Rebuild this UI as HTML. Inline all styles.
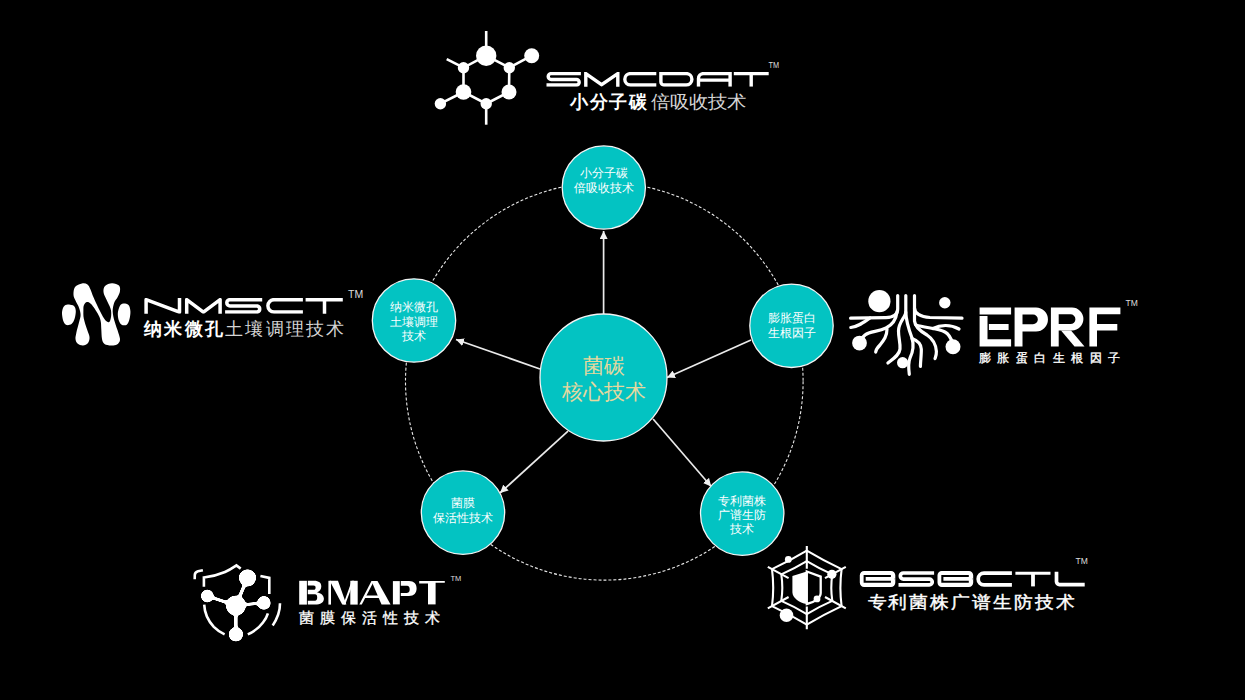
<!DOCTYPE html>
<html><head><meta charset="utf-8">
<style>
html,body{margin:0;padding:0;background:#000;width:1245px;height:700px;overflow:hidden}
svg{display:block}
text{font-family:"Liberation Sans",sans-serif}
.ct{fill:#fff;font-size:12px;text-anchor:middle}
</style></head><body>
<svg width="1245" height="700" viewBox="0 0 1245 700">
<defs>
<marker id="ah" viewBox="0 0 10 10" refX="10" refY="5" markerWidth="8" markerHeight="8" markerUnits="userSpaceOnUse" orient="auto">
<path d="M0,0 L10,5 L0,10 z" fill="#f0f0f0"/>
</marker>
</defs>
<rect width="1245" height="700" fill="#000"/>
<!-- dashed ring -->
<ellipse cx="604.3" cy="381.3" rx="198.8" ry="198.8" fill="none" stroke="#e8e8e8" stroke-width="1.1" stroke-dasharray="3 2"/>
<!-- connectors -->
<g stroke="#eaeaea" stroke-width="1.7" fill="none">
<line x1="603.6" y1="314" x2="603.6" y2="231" marker-end="url(#ah)"/>
<line x1="540" y1="369" x2="456" y2="339.5" marker-end="url(#ah)"/>
<line x1="751" y1="340" x2="667" y2="377.5" marker-end="url(#ah)"/>
<line x1="568" y1="431.2" x2="500" y2="493" marker-end="url(#ah)"/>
<line x1="653.1" y1="419" x2="711.2" y2="486.5" marker-end="url(#ah)"/>
</g>
<!-- circles -->
<g fill="#03c3c2" stroke="#f4f4f4" stroke-width="1.3">
<circle cx="603.5" cy="377.5" r="63.5"/>
<circle cx="603.8" cy="187.5" r="41.6"/>
<circle cx="414" cy="320.5" r="41.7"/>
<circle cx="791.5" cy="325.8" r="41.7"/>
<circle cx="463" cy="512.6" r="41.7"/>
<circle cx="742.2" cy="513.6" r="41.7"/>
</g>
<g class="ct">
<text x="603.8" y="177">小分子碳</text>
<text x="603.8" y="192">倍吸收技术</text>
<text x="414" y="311">纳米微孔</text>
<text x="414" y="326">土壤调理</text>
<text x="414" y="340">技术</text>
<text x="791.5" y="322">膨胀蛋白</text>
<text x="791.5" y="337">生根因子</text>
<text x="463" y="507">菌膜</text>
<text x="463" y="522">保活性技术</text>
<text x="742.2" y="505">专利菌株</text>
<text x="742.2" y="519">广谱生防</text>
<text x="742.2" y="533">技术</text>
</g>
<g fill="#e6d89e" font-size="21" text-anchor="middle">
<text x="603.5" y="373">菌碳</text>
<text x="603.5" y="399">核心技术</text>
</g>

<!-- ===== SMCDAT logo ===== -->
<g id="smcdat">
<g stroke="#fff" stroke-width="2.6" fill="none">
<line x1="486.2" y1="31" x2="486.2" y2="56"/>
<line x1="486.2" y1="104" x2="486.2" y2="124.7"/>
<line x1="446.7" y1="59.2" x2="463.5" y2="67.7"/>
<line x1="509.3" y1="67.7" x2="531.7" y2="55.7"/>
<line x1="440.4" y1="103.7" x2="463.5" y2="92"/>
<path d="M486.2,55.7 L463.5,67.7 L463.5,92 L486.2,103.7 L509,92 L509.3,67.7 Z"/>
</g>
<g fill="#fff">
<circle cx="486.2" cy="55.7" r="10.2"/>
<circle cx="463.5" cy="67.7" r="5.7"/>
<circle cx="509.3" cy="67.7" r="5.7"/>
<circle cx="531.7" cy="55.7" r="7.5"/>
<circle cx="463.5" cy="92" r="7.8"/>
<circle cx="509" cy="92" r="7.5"/>
<circle cx="486.2" cy="103.7" r="5.7"/>
<circle cx="440.4" cy="103.7" r="5.7"/>
</g>
<clipPath id="clipSM"><rect x="540" y="71.9" width="235" height="14.9"/></clipPath>
<g stroke="#fff" stroke-width="3.4" fill="none" stroke-linejoin="miter" stroke-miterlimit="6" clip-path="url(#clipSM)">
<path d="M580.9,73.6 H551.15 A2.95,2.95 0 0 0 551.15,79.5 H576.45 A2.75,2.75 0 0 1 576.45,85 H546.5"/>
<path d="M585.8,88 V73.6 L601.6,84.7 L617.8,73.6 V88"/>
<path d="M656.3,73.6 H630.5 A5.7,5.7 0 0 0 630.5,85 H656.3"/>
<path d="M659.2,73.6 H686.2 A5.7,5.7 0 0 1 686.2,85 H663.9 A3,3 0 0 1 660.9,82 V73.6"/>
<path d="M698.5,86.8 V78.6 A5,5 0 0 1 703.5,73.6 H731.8 M730.1,73.6 V86.8 M698.5,80.1 H730.1"/>
<path d="M733.8,73.6 H768.7 M751.2,73.6 V86.8"/>
</g>
<text x="768.6" y="67.6" font-size="8.7" textLength="10.6" lengthAdjust="spacingAndGlyphs" fill="#ddd">TM</text>
<text x="570" y="108" font-size="17.5" font-weight="bold" letter-spacing="1.5" fill="#fff">小分子碳</text>
<text transform="translate(650.5,108) scale(1.08,1)" font-size="17.5" letter-spacing="0.45" fill="#d4d4d4">倍吸收技术</text>
</g>

<!-- ===== NMSCT logo ===== -->
<g id="nmsct">
<g transform="translate(70,280) scale(0.1)" fill="#fff">
<path d="M120,35 C141,31 161,35 175,45 C189,55 195,74 205,95 C215,116 221,140 234,171 C247,202 266,243 284,279 C302,315 326,362 341,386 C356,410 367,416 377,420 C387,424 394,422 400,410 C406,398 411,371 412,350 C413,329 413,311 405,285 C397,259 375,220 363,193 C351,166 337,142 335,120 C333,98 336,75 350,60 C364,45 397,33 420,32 C443,31 477,42 490,55 C503,68 502,91 500,110 C498,129 487,151 477,171 C467,191 449,205 441,229 C433,253 426,282 427,314 C428,346 438,385 448,421 C458,457 475,499 484,529 C493,559 502,581 500,600 C498,619 485,636 470,645 C455,654 431,656 410,655 C389,654 360,651 345,640 C330,629 325,614 320,590 C315,566 315,524 313,493 C311,462 312,433 306,407 C300,381 292,363 277,336 C262,309 231,262 213,243 C195,224 182,220 170,221 C158,222 146,237 140,250 C134,263 134,277 134,300 C134,323 132,354 138,386 C144,418 160,462 170,493 C180,524 193,547 195,570 C197,593 191,616 180,630 C169,644 148,654 130,655 C112,656 88,646 75,635 C62,624 57,608 55,590 C53,572 57,557 63,529 C69,501 84,451 91,421 C98,391 106,374 106,350 C106,326 99,303 91,279 C83,255 65,228 56,207 C47,186 36,173 35,150 C34,127 36,89 50,70 C64,51 99,39 120,35 Z"/>
<path d="M-10,245 C4,247 29,249 40,260 C51,271 57,288 58,310 C59,332 52,368 45,390 C38,412 28,430 15,440 C2,450 -22,454 -35,450 C-48,446 -58,433 -65,415 C-72,397 -79,362 -80,340 C-81,318 -76,295 -70,280 C-64,265 -55,256 -45,250 C-35,244 -24,243 -10,245 Z"/>
<path d="M540,236 C552,237 574,238 585,250 C596,262 602,287 604,310 C606,333 601,368 595,390 C589,412 582,435 570,445 C558,455 533,456 520,450 C507,444 497,428 490,410 C483,392 478,362 478,340 C478,318 485,296 490,280 C495,264 502,252 510,245 C518,238 528,235 540,236 Z"/>
</g>
<clipPath id="clipNM"><rect x="140" y="297.9" width="210" height="15.9"/></clipPath>
<g stroke="#fff" stroke-width="3.5" fill="none" stroke-linejoin="round" clip-path="url(#clipNM)">
<path d="M146.1,316 V299.65 L179.5,312.05 V295"/>
<path d="M186.7,316 V299.65 L203.4,312.05 L220.1,299.65 V316"/>
<path d="M262.2,299.65 H230 A3.2,3.2 0 0 0 230,306.05 H257.4 A3.1,3.1 0 0 1 257.4,312.05 H225.1"/>
<path d="M302.9,299.65 H274.1 A6.2,6.2 0 0 0 274.1,312.05 H302.9"/>
<path d="M305.6,299.65 H342.8 M324.5,299.65 V316"/>
</g>
<text x="348" y="297.6" font-size="10.5" fill="#ddd">TM</text>
<text x="144" y="335" font-size="17.5" font-weight="bold" letter-spacing="2.3" fill="#fff">纳米微孔</text>
<text x="225" y="335" font-size="17.5" letter-spacing="2.3" fill="#d4d4d4">土壤调理技术</text>
</g>

<!-- ===== EPRF logo ===== -->
<g id="eprf">
<g stroke="#fff" stroke-width="3.2" fill="none" stroke-linecap="round">
<path d="M897.7,295.5 V309 C897.7,314 894,317.3 886,317.6 L850.6,318.2"/>
<path d="M850.8,327.5 C858,326.5 863,323 870,318"/>
<path d="M905.8,295.5 V312 C905.8,317 898.5,322 898.5,331 C898.5,338 900.5,343 900,349 C899.5,355 893,359 887.9,363"/>
<path d="M905.8,312 C906,320 909,330 912,338 C914,345 912.5,353 910,358 C908,363 908.6,369 909.3,374.3"/>
<path d="M912,338.5 C916,340 921,343 921.3,349 C921.5,354 920.5,361 920.4,366.4"/>
<path d="M914.5,295.5 V308 C914.5,313 920,317 930,317.5 L962,318.2"/>
<path d="M914.5,308 V321 C915,327 920,331 927,335 C933,339 936,345 936.4,351.4 C936.5,355 935.5,357 935,358.6"/>
<path d="M916,325 C925,328 938,328 945,332 C949,334 951,338 953,344"/>
<path d="M933,328.5 C940,325 950,324 959,329"/>
<path d="M897,312 C896,320 892,325 886,328 C878,332 870,331 865,335 L860,340"/>
<path d="M887,329 C887,336 884,340 880,345 C877,348 876,350 875.7,352.1"/>
</g>
<g fill="#fff">
<circle cx="879.4" cy="301.2" r="11.1"/>
<circle cx="944.8" cy="302.7" r="5.7"/>
<circle cx="859.5" cy="343.1" r="7.4"/>
<circle cx="953" cy="346.8" r="7.5"/>
<circle cx="902.6" cy="362.7" r="5.6"/>
<path d="M979.6,307.5 H1011.1 V314.6 H979.6 Z M979.6,316.1 H987.5 V339.3 H1011.1 V346.4 H979.6 Z M988.9,323.9 H1008.6 V330 H988.9 Z"/>
<path fill-rule="evenodd" d="M1014.6,346.4 V307.5 H1036 A11.95,11.95 0 0 1 1036,331.4 H1022.5 V346.4 Z M1022.5,314.6 H1033 A4.85,4.85 0 0 1 1033,324.3 H1022.5 Z"/>
<path fill-rule="evenodd" d="M1050.9,346.5 V307.6 H1072 A11.4,11.4 0 0 1 1072,330.4 H1058.7 V346.5 Z M1058.7,314.2 H1070.45 A4.95,4.95 0 0 1 1070.45,324.1 H1058.7 Z"/>
<path d="M1061,330.4 H1071 L1084.5,346.5 H1074.5 Z"/>
<path d="M1089.4,346.5 V307.6 H1120.4 V314.2 H1097 V324.1 H1117.3 V330.4 H1097 V346.5 Z"/>
</g>
<text x="1125.5" y="305.8" font-size="8.5" fill="#ddd">TM</text>
<text x="978.5" y="361.5" font-size="12.3" letter-spacing="6.55" fill="#fff" stroke="#fff" stroke-width="0.35">膨胀蛋白生根因子</text>
</g>

<!-- ===== BMAPT logo ===== -->
<g id="bmapt">
<g stroke="#fff" stroke-width="2.6" fill="none" stroke-linecap="butt">
<path d="M202.9,570.2 L198,571.2 Q195,572 194.8,574.8 L194.7,579.3"/>
<path d="M203.9,586.8 V577.5 C210,576.8 218,575 225,572 C230,569.8 234,567 236.4,565.4 L240.7,568.6"/>
<path d="M260.4,576.1 L269.3,577.9 V593.9"/>
<path d="M204.2,604.6 C204.5,612 207.5,620 213.8,626.8 C217,630 220.5,632.5 224.6,634.4"/>
<path d="M247.8,634.4 C253,632 259,628 263,622.5 C265.5,619.5 267,616.5 267.9,613.4"/>
<path d="M280,603.3 C280,607.5 279.3,611.5 278.2,614.5 C276.8,618.5 274.8,622.5 272.7,625.4"/>
</g>
<filter id="goo" x="-20%" y="-20%" width="140%" height="140%">
<feGaussianBlur in="SourceGraphic" stdDeviation="1.0" result="b"/>
<feColorMatrix in="b" type="matrix" values="0 0 0 0 1  0 0 0 0 1  0 0 0 0 1  0 0 0 6 -2.4"/>
</filter>
<g filter="url(#goo)">
<g stroke="#fff" fill="none">
<line x1="235.9" y1="605.5" x2="247.5" y2="577.9" stroke-width="3.4"/>
<line x1="235.9" y1="605.5" x2="207.3" y2="596" stroke-width="3"/>
<line x1="235.9" y1="605.5" x2="263.9" y2="602.9" stroke-width="3"/>
<line x1="235.9" y1="605.5" x2="235.9" y2="634.4" stroke-width="3.3"/>
</g>
<g fill="#fff">
<circle cx="235.9" cy="605.5" r="10.1"/>
<circle cx="247.5" cy="577.9" r="8.6"/>
<circle cx="207.3" cy="596" r="6.4"/>
<circle cx="263.9" cy="602.9" r="6.8"/>
<circle cx="235.9" cy="634.4" r="7.2"/>
</g>
</g>
<g fill="#fff">
<path d="M299.2,580.8 H306.9 V604.6 H299.2 Z"/>
<path d="M307.8,580.8 H314 C319,580.8 321.3,583 321.3,586.5 C321.3,589.5 319.5,591.5 317,592.2 C321,593 323.9,595.5 323.9,598.8 C323.9,602.5 320.5,604.6 315,604.6 H307.8 V600.7 H315 C316.5,600.7 317.2,599.5 317.2,597.5 C317.2,595.5 316.5,594.3 315,594.3 H307.8 V589.8 H313.5 C315,589.8 315.6,588.8 315.6,587.7 C315.6,586.5 315,585.6 313.5,585.6 H307.8 Z"/>
<path d="M328.4,580.8 H331 V604.6 H328.4 Z"/>
<path d="M329.7,580.8 H338 L346.4,604.6 H342.2 Z"/>
<path d="M343.3,604.6 H345.2 L354.1,580.8 H351.8 Z"/>
<path d="M350.3,580.8 H357.7 V604.6 H350.3 Z"/>
<path d="M359.3,604.6 H361.8 L374,581.1 H371.5 Z"/>
<path d="M371.5,581.1 H377.5 L390.6,604.4 H381.5 Z"/>
<path d="M364.6,595.6 H384.5 L385.7,597.9 H363.4 Z"/>
<path d="M392.9,581.1 H399.8 V604.4 H392.9 Z"/>
<path d="M400.8,581.1 H409 C414,581.1 416.6,584 416.6,588.5 C416.6,593 414,596 409,596 H400.8 V592.9 H407 C408.8,592.9 409.7,591.5 409.7,589.3 C409.7,587 408.8,585.7 407,585.7 H400.8 Z"/>
<path d="M419.2,581.1 H444.8 V582.8 H428 V583.5 H419.2 Z"/>
<path d="M428,581.1 H435.6 V604.4 H428 Z"/>
</g>
<text x="450.5" y="580.5" font-size="7.5" fill="#ddd">TM</text>
<text x="299" y="622.5" font-size="15" letter-spacing="6" fill="#fff" stroke="#fff" stroke-width="0.3">菌膜保活性技术</text>
</g>

<!-- ===== BSBCTL logo ===== -->
<g id="bsbctl">
<g stroke="#fff" stroke-width="2.1" fill="none">
<path d="M806.8,550.6 Q823.7,560.7 841.6,569.1 Q839.2,587.6 841.6,606.1 Q823.7,614.5 806.8,624.6 Q789.9,614.5 772.0,606.1 Q774.4,587.6 772.0,569.1 Q789.9,560.7 806.8,550.6 Z"/>
<path d="M806.8,561.1 Q819.1,568.5 832.3,574.4 Q830.3,587.6 832.3,600.9 Q819.1,606.7 806.8,614.1 Q794.5,606.7 781.3,600.9 Q783.3,587.6 781.3,574.4 Q794.5,568.5 806.8,561.1 Z"/>
<path d="M806.8,546.0 L806.8,568.8 M845.8,566.8 L825.0,578.2 M845.8,608.4 L825.0,597.0 M806.8,629.2 L806.8,606.4 M767.8,608.4 L788.6,597.0 M767.8,566.8 L788.6,578.2 "/>
</g>
<path d="M806.8,571.5 L792.4,576.1 V591.9 C792.4,598 799,602.5 806.8,604 Z" fill="#fff"/>
<path d="M806.8,571.5 L820.7,576.6 V592.9 C820.7,598 814,602.5 806.8,604 Z" fill="none" stroke="#fff" stroke-width="2.3"/>
<g fill="#fff">
<circle cx="788.3" cy="559.4" r="3.4"/>
<circle cx="831.9" cy="574.3" r="4.6"/>
<circle cx="817" cy="598.9" r="3.4"/>
<circle cx="786.5" cy="615.3" r="6.8"/>
</g>
<path fill="#fff" fill-rule="evenodd" d="M864.1,571.0 H891.0 A4.3,4.3 0 0 1 895.3,575.3 V582.6 A4.3,4.3 0 0 1 891.0,586.9 H864.1 A4.3,4.3 0 0 1 859.8,582.6 V575.3 A4.3,4.3 0 0 1 864.1,571.0 Z M890.9,574.9 H863.6 V582.8 H890.9 V580.7 H865.7 V576.9 H890.9 Z M895.5,578.1 L894.4,578.9 L895.5,579.7 Z"/>
<path fill="#fff" fill-rule="evenodd" d="M941.8,571.0 H968.9 A4.3,4.3 0 0 1 973.2,575.3 V582.6 A4.3,4.3 0 0 1 968.9,586.9 H941.8 A4.3,4.3 0 0 1 937.5,582.6 V575.3 A4.3,4.3 0 0 1 941.8,571.0 Z M968.8,574.9 H941.3 V582.8 H968.8 V580.7 H943.4 V576.9 H968.8 Z M973.4,578.1 L972.3,578.9 L973.4,579.7 Z"/>
<g stroke="#fff" stroke-width="3.7" fill="none">
<path d="M934.1,573 H903.4 A3.05,3.05 0 0 0 903.4,579.1 H929.35 A2.9,2.9 0 0 1 929.35,584.9 H898.5"/>
<path d="M1011.9,573.15 H984 A5.825,5.825 0 0 0 984,584.8 H1011.9"/>
</g>
<g stroke="#fff" stroke-width="3.5" fill="none">
<path d="M1015.4,573.3 H1050.5" stroke-width="3.1"/>
<path d="M1033,573 V586.4" stroke-width="3.8"/>
<path d="M1056.5,571.7 V581.5 A3,3 0 0 0 1059.5,584.55 H1084.7" stroke-width="3.7"/>
</g>
<text x="1075.5" y="563.8" font-size="8.5" fill="#ddd">TM</text>
<text transform="translate(867.5,608) scale(1.1,1)" font-size="17.5" letter-spacing="1.9" fill="#fff" stroke="#fff" stroke-width="0.4">专利菌株广谱生防技术</text>
</g>
</svg>
</body></html>
